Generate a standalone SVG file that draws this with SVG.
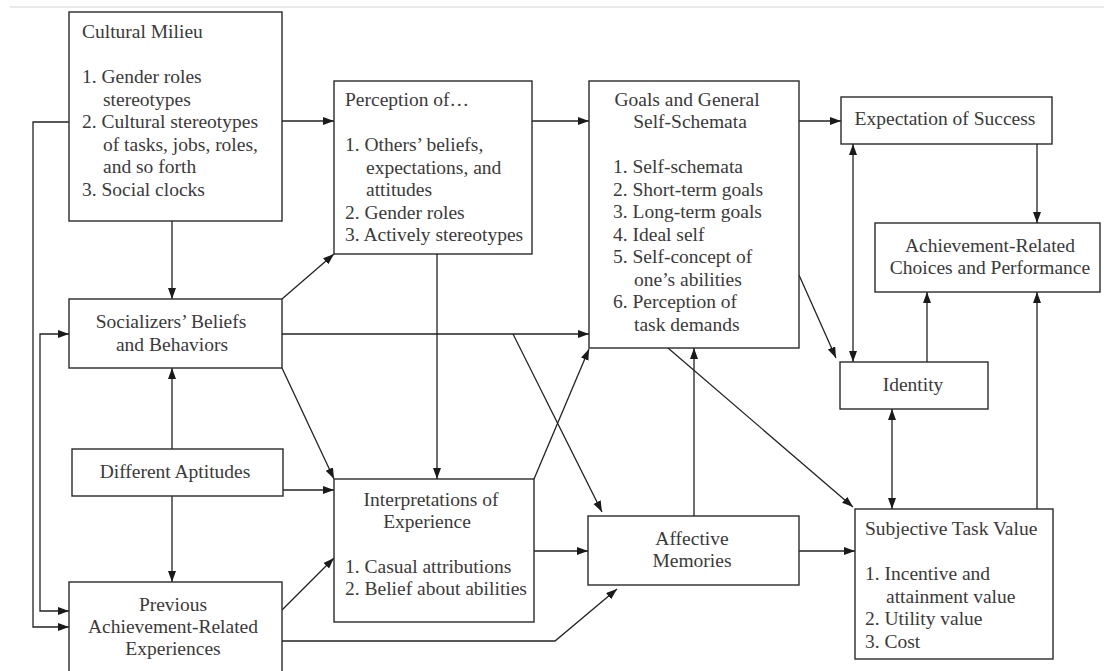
<svg xmlns="http://www.w3.org/2000/svg" width="1104" height="671" viewBox="0 0 1104 671">
<style>
.box{fill:#fff;stroke:#2a2a2a;stroke-width:1.4}
.t{font-family:"Liberation Serif","Times New Roman",serif;font-size:19.5px;fill:#3a3a3a}
.c{text-anchor:middle}
.ln{fill:none;stroke:#222;stroke-width:1.3}
.a{marker-end:url(#ah)}
.b{marker-end:url(#ah);marker-start:url(#ah)}
</style>
<defs>
<marker id="ah" markerUnits="userSpaceOnUse" markerWidth="12" markerHeight="10" refX="11" refY="4" orient="auto-start-reverse">
<path d="M0,0 L11,4 L0,8 z" fill="#1a1a1a"/>
</marker>
</defs>
<rect width="1104" height="671" fill="#fff"/>
<path d="M10,7 H1104" stroke="#e2e2e2" stroke-width="1.5"/>

<g id="connectors">
<path class="ln a" d="M282,121 H334"/>
<path class="ln a" d="M172,221 V299"/>
<path class="ln a" d="M69,122 H33 V627 H69"/>
<path class="ln b" d="M69,334 H40 V611 H69"/>
<path class="ln a" d="M282,299 L334,254"/>
<path class="ln a" d="M282,334 H589"/>
<path class="ln a" d="M513,334 L602,512"/>
<path class="ln a" d="M282,368 L334,479"/>
<path class="ln a" d="M172,449 V368"/>
<path class="ln a" d="M283,490 H334"/>
<path class="ln a" d="M172,496 V582"/>
<path class="ln a" d="M282,610 L334,558"/>
<path class="ln a" d="M282,641 H555 L617,589"/>
<path class="ln a" d="M437,254 V479"/>
<path class="ln a" d="M532,121 H589"/>
<path class="ln a" d="M534,479 L589,349"/>
<path class="ln a" d="M534,551 H588"/>
<path class="ln a" d="M694,516 V348"/>
<path class="ln a" d="M799,551 H855"/>
<path class="ln a" d="M799,121 H841"/>
<path class="ln a" d="M799,275 L836,358"/>
<path class="ln a" d="M668,348 L853,507"/>
<path class="ln b" d="M853,144 V362"/>
<path class="ln a" d="M1037,144 V223"/>
<path class="ln a" d="M927,362 V292"/>
<path class="ln b" d="M892,409 V509"/>
<path class="ln a" d="M1037,509 V292"/>
</g>

<g id="cultural-milieu">
<rect class="box" x="69" y="12" width="213" height="209"/>
<text class="t" x="82" y="38">Cultural Milieu</text>
<text class="t" x="82" y="83">1. Gender roles</text>
<text class="t" x="103" y="105.5">stereotypes</text>
<text class="t" x="82" y="128">2. Cultural stereotypes</text>
<text class="t" x="103" y="150.5">of tasks, jobs, roles,</text>
<text class="t" x="103" y="173">and so forth</text>
<text class="t" x="82" y="195.5">3. Social clocks</text>
</g>

<g id="perception">
<rect class="box" x="334" y="81" width="198" height="173"/>
<text class="t" x="345" y="105.5">Perception of…</text>
<text class="t" x="345" y="151">1. Others’ beliefs,</text>
<text class="t" x="366" y="173.5">expectations, and</text>
<text class="t" x="366" y="196">attitudes</text>
<text class="t" x="345" y="218.5">2. Gender roles</text>
<text class="t" x="345" y="241">3. Actively stereotypes</text>
</g>

<g id="goals">
<rect class="box" x="589" y="81" width="210" height="267"/>
<text class="t c" x="687" y="105.5">Goals and General</text>
<text class="t c" x="690" y="128">Self-Schemata</text>
<text class="t" x="613" y="173">1. Self-schemata</text>
<text class="t" x="613" y="195.5">2. Short-term goals</text>
<text class="t" x="613" y="218">3. Long-term goals</text>
<text class="t" x="613" y="240.5">4. Ideal self</text>
<text class="t" x="613" y="263">5. Self-concept of</text>
<text class="t" x="634" y="285.5">one’s abilities</text>
<text class="t" x="613" y="308">6. Perception of</text>
<text class="t" x="634" y="330.5">task demands</text>
</g>

<g id="expectation">
<rect class="box" x="841" y="97" width="211" height="47"/>
<text class="t c" x="945" y="125">Expectation of Success</text>
</g>

<g id="achievement">
<rect class="box" x="875" y="223" width="225" height="69"/>
<text class="t c" x="990" y="252">Achievement-Related</text>
<text class="t c" x="990" y="274">Choices and Performance</text>
</g>

<g id="identity">
<rect class="box" x="840" y="362" width="148" height="47"/>
<text class="t c" x="913" y="391">Identity</text>
</g>

<g id="subjective-task-value">
<rect class="box" x="855" y="509" width="198" height="150"/>
<text class="t" x="865" y="535">Subjective Task Value</text>
<text class="t" x="865" y="580">1. Incentive and</text>
<text class="t" x="886" y="602.5">attainment value</text>
<text class="t" x="865" y="625">2. Utility value</text>
<text class="t" x="865" y="647.5">3. Cost</text>
</g>

<g id="socializers">
<rect class="box" x="69" y="299" width="213" height="69"/>
<text class="t c" x="171" y="328">Socializers’ Beliefs</text>
<text class="t c" x="172" y="351">and Behaviors</text>
</g>

<g id="aptitudes">
<rect class="box" x="72" y="449" width="211" height="47"/>
<text class="t c" x="175" y="478">Different Aptitudes</text>
</g>

<g id="previous">
<rect class="box" x="69" y="582" width="213" height="100"/>
<text class="t c" x="173" y="611">Previous</text>
<text class="t c" x="173" y="633">Achievement-Related</text>
<text class="t c" x="173" y="655">Experiences</text>
</g>

<g id="interpretations">
<rect class="box" x="334" y="479" width="200" height="143"/>
<text class="t c" x="431" y="506">Interpretations of</text>
<text class="t c" x="427" y="528">Experience</text>
<text class="t" x="345" y="573">1. Casual attributions</text>
<text class="t" x="345" y="595">2. Belief about abilities</text>
</g>

<g id="affective">
<rect class="box" x="588" y="516" width="211" height="69"/>
<text class="t c" x="692" y="545">Affective</text>
<text class="t c" x="692" y="567">Memories</text>
</g>
</svg>
